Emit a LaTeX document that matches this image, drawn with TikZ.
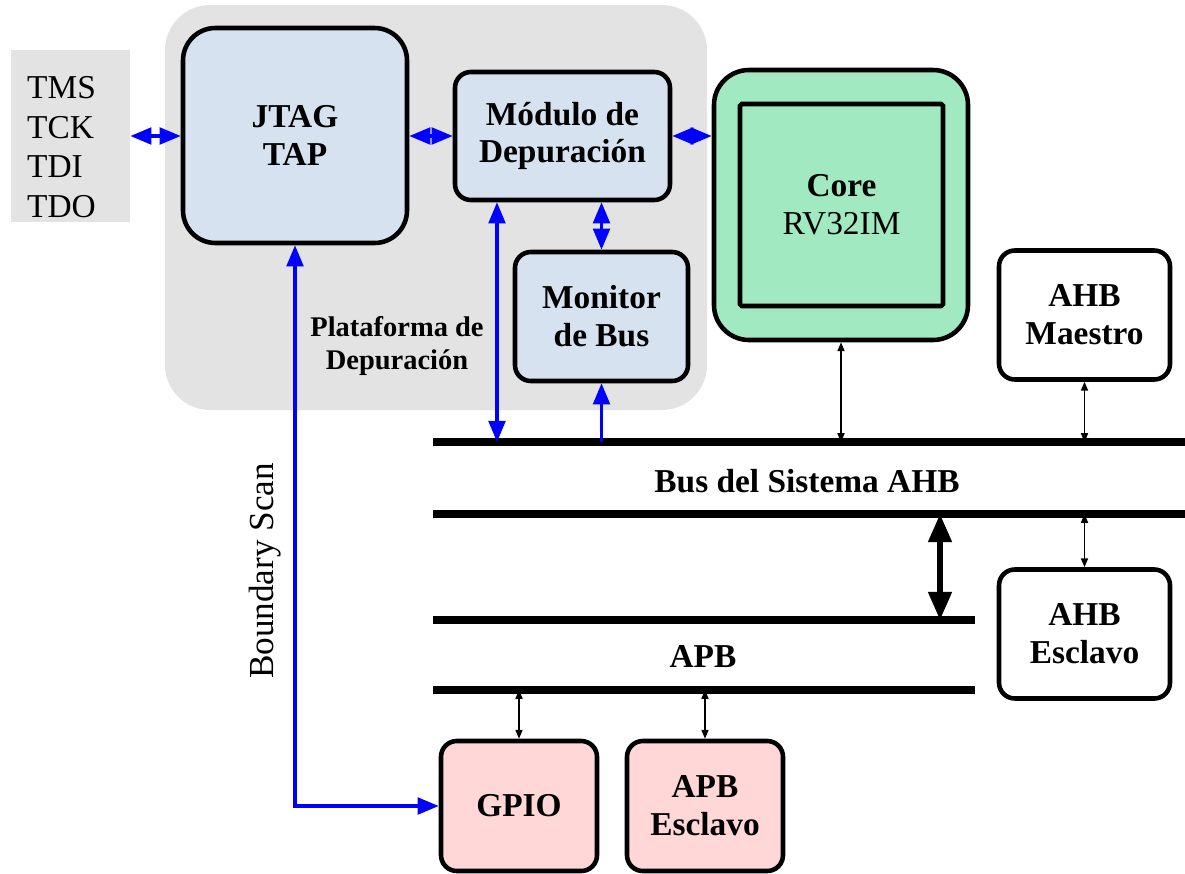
\documentclass[tikz,border=0pt]{standalone}
\usepackage{fontspec}
\setmainfont{Liberation Serif}
\usepackage{tikz}
\usetikzlibrary{arrows.meta,positioning}
\usepackage{xcolor}
\definecolor{dbgblue}{HTML}{D7E2F0}
\definecolor{coregreen}{HTML}{A1E9C1}
\definecolor{perpink}{HTML}{FFD7D7}
\definecolor{platgray}{HTML}{E3E3E3}

\begin{document}
\begin{tikzpicture}[
    box/.style={draw, line width=2.6pt, rounded corners=9pt, align=center, font=\fontsize{19}{21.5}\selectfont\bfseries},
    dbg/.style={box, fill=dbgblue},
    periph/.style={box, fill=perpink, minimum width=3.12cm, minimum height=2.6cm},
    ahbbox/.style={box, fill=white, minimum width=3.42cm, minimum height=2.58cm},
    bus/.style={line width=4pt},
    jlink/.style={<->, >={Triangle[length=12pt,width=9.5pt]}, blue, line width=1.8pt},
    blink/.style={<->, >={Triangle[length=5pt,width=4pt]}, line width=0.8pt},
    lbl/.style={font=\fontsize{19}{21.5}\selectfont\bfseries, align=center}
  ]
  \useasboundingbox (0,0) rectangle (23.7,-17.46);

  % Debug platform background
  \node[fill=platgray, rounded corners=0.9cm, minimum width=10.84cm, minimum height=8.1cm] (plat) at (8.72,-4.15) {};
  \node[font=\fontsize{16.2}{18.5}\selectfont\bfseries, align=center] (platname) at (7.94,-6.92) {Plataforma de\\Depuración};

  % JTAG pins
  \node[fill=platgray, minimum width=2.38cm, minimum height=3.44cm] (pins) at (1.41,-2.72) {};
  \node[align=left, font=\fontsize{19}{22.5}\selectfont, anchor=west] (pintext) at (0.42,-2.94) {TMS\\TCK\\TDI\\TDO};

  % Debug blocks
  \node[dbg, rounded corners=0.65cm, minimum width=4.48cm, minimum height=4.3cm] (jtag) at (5.9,-2.71) {JTAG\\TAP};
  \node[dbg, minimum width=4.3cm, minimum height=2.56cm] (modulo) at (11.25,-2.72) {Módulo de\\Depuración};
  \node[dbg, minimum width=3.46cm, minimum height=2.58cm] (monitor) at (12.03,-6.33) {Monitor\\de Bus};

  % Core
  \node[box, fill=coregreen, rounded corners=0.7cm, minimum width=5.08cm, minimum height=5.4cm] (core) at (16.82,-4.1) {};
  \node[box, rounded corners=1pt, minimum width=4.06cm, minimum height=4.04cm, font=\fontsize{19}{21.5}\selectfont] (coreinner) at (16.83,-4.1) {\textbf{Core}\\RV32IM};

  % AHB blocks
  \node[ahbbox] (maestro) at (21.69,-6.3) {AHB\\Maestro};
  \node[ahbbox] (esclavo) at (21.69,-12.68) {AHB\\Esclavo};

  % APB peripherals
  \node[periph] (gpio) at (10.38,-16.12) {GPIO};
  \node[periph] (apbesc) at (14.1,-16.12) {APB\\Esclavo};

  % Buses
  \coordinate (ahbtopL) at (8.66,-8.84);
  \coordinate (ahbtopR) at (23.7,-8.84);
  \coordinate (ahbbotL) at (8.66,-10.28);
  \coordinate (ahbbotR) at (23.7,-10.28);
  \coordinate (apbtopL) at (8.66,-12.4);
  \coordinate (apbtopR) at (19.5,-12.4);
  \coordinate (apbbotL) at (8.66,-13.8);
  \coordinate (apbbotR) at (19.5,-13.8);
  \draw[bus] (ahbtopL) -- (ahbtopR);
  \draw[bus] (ahbbotL) -- (ahbbotR);
  \draw[bus] (apbtopL) -- (apbtopR);
  \draw[bus] (apbbotL) -- (apbbotR);
  \node[lbl] (ahbname) at (16.14,-9.62) {Bus del Sistema AHB};
  \node[lbl] (apbname) at (14.06,-13.14) {APB};

  % Debug connections
  \draw[jlink] (pins.east) -- (pins.east -| jtag.west);
  \draw[jlink] (modulo.west -| jtag.east) -- (modulo.west);
  \draw[jlink] (modulo.east) -- (modulo.east -| core.west);
  \draw[jlink] (monitor.north) -- (monitor.north |- modulo.south);
  \coordinate (dbgtap) at (9.94,-8.84);
  \draw[jlink] (dbgtap |- modulo.south) -- (dbgtap);
  \draw[jlink, ->] (monitor.south |- ahbtopL) -- (monitor.south);
  \draw[jlink] (jtag.south) |- (gpio.west);
  \node[rotate=90, font=\fontsize{20}{22}\selectfont] (bscan) at (5.3,-11.42) {Boundary Scan};

  % Bus connections
  \draw[blink] (core.south) -- (core.south |- ahbtopL);
  \draw[blink] (maestro.south) -- (maestro.south |- ahbtopL);
  \draw[blink] (esclavo.north |- ahbbotL) -- (esclavo.north);
  \coordinate (bridge) at (18.8,-10.28);
  \draw[<->, >={Triangle[length=16pt,width=13pt]}, line width=3pt] (bridge) -- (bridge |- apbtopL);
  \draw[blink] (gpio.north |- apbbotL) -- (gpio.north);
  \draw[blink] (apbesc.north |- apbbotL) -- (apbesc.north);

\end{tikzpicture}
\end{document}
